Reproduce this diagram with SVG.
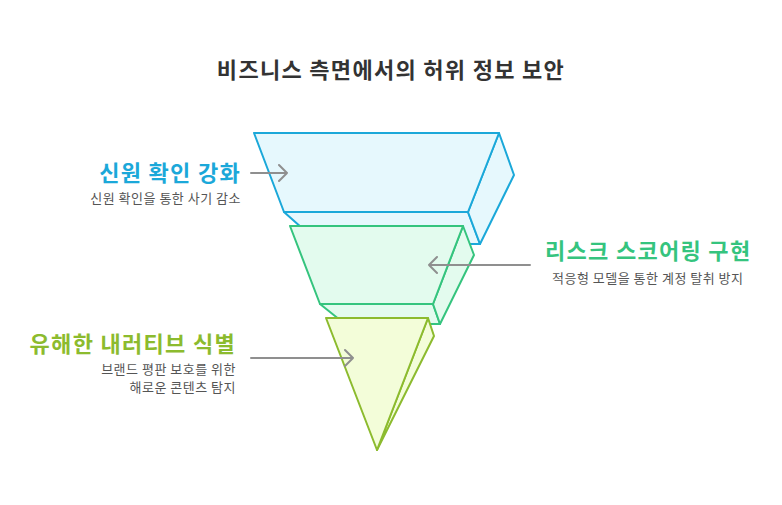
<svg xmlns="http://www.w3.org/2000/svg" width="782" height="505" viewBox="0 0 782 505">
<style>
text{font-family:"Noto Sans CJK KR","Noto Sans",sans-serif}
.t{font-size:22px;font-weight:bold;letter-spacing:1.3px}
.s{font-size:13px;fill:#555;letter-spacing:0.5px}
.b{fill:#e6f8fd;stroke:#1ba8d9;stroke-width:2;stroke-linejoin:round}
.g{fill:#e3fbee;stroke:#35c47e;stroke-width:2;stroke-linejoin:round}
.y{fill:#f3fdd9;stroke:#8cbb2e;stroke-width:2;stroke-linejoin:round}
.a{stroke:#8f8f8f;stroke-width:2;fill:none;stroke-linecap:round;stroke-linejoin:round}
</style>
<rect width="782" height="505" fill="#fff"/>
<text x="391" y="78" text-anchor="middle" class="t" fill="#333">비즈니스 측면에서의 허위 정보 보안</text>
<g id="n1">
<polygon class="b" points="284,212 468,212 480,244 320,244"/>
<polygon class="b" points="499,133 514,175 480,244 468,212"/>
<polygon class="b" points="254,133 499,133 468,212 284,212"/>
</g>
<g id="n2">
<polygon class="g" points="320,304 433,304 440,324 345,324"/>
<polygon class="g" points="463,226 474,255 440,324 433,304"/>
<polygon class="g" points="290,226 463,226 433,304 320,304"/>
</g>
<g id="n3">
<polygon class="y" points="428,318 434,336 377,450"/>
<polygon class="y" points="326,318 428,318 377,450"/>
</g>
<g id="connectors">
<path class="a" d="M251,173H287M279,165L287,173L279,181"/>
<path class="a" d="M530,265H429M437,257L429,265L437,273"/>
<path class="a" d="M251,358H353M345,350L353,358L345,366"/>
</g>
<g id="l1">
<text x="241" y="181" text-anchor="end" class="t" fill="#1ba8d9">신원 확인 강화</text>
<text x="241" y="203" text-anchor="end" class="s">신원 확인을 통한 사기 감소</text>
</g>
<g id="l2">
<text x="545" y="259" class="t" fill="#35c47e">리스크 스코어링 구현</text>
<text x="552" y="283" class="s">적응형 모델을 통한 계정 탈취 방지</text>
</g>
<g id="l3">
<text x="236" y="352" text-anchor="end" class="t" fill="#8cbb2e">유해한 내러티브 식별</text>
<text x="236" y="374" text-anchor="end" class="s">브랜드 평판 보호를 위한</text>
<text x="236" y="392" text-anchor="end" class="s">해로운 콘텐츠 탐지</text>
</g>
</svg>
